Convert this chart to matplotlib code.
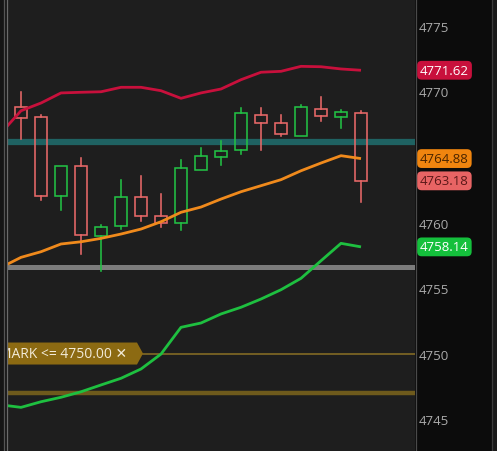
import matplotlib
matplotlib.use("Agg")
import matplotlib.pyplot as plt
from matplotlib.patches import Rectangle, Polygon
from matplotlib.transforms import blended_transform_factory
import numpy as np

plt.rcParams['font.family'] = ['Open Sans', 'DejaVu Sans']

# ---------------- data ----------------
opens  = [4768.79, 4768.03, 4762.05, 4764.29, 4758.95, 4759.71, 4761.92, 4760.47, 4759.96,
          4764.03, 4765.02, 4765.56, 4768.21, 4767.57, 4766.63, 4768.66, 4768.08, 4768.34]
highs  = [4769.94, 4768.21, 4764.29, 4764.92, 4759.81, 4763.24, 4763.57, 4762.18, 4764.77,
          4765.69, 4766.20, 4768.72, 4768.72, 4768.21, 4768.97, 4769.56, 4768.61, 4768.49]
lows   = [4766.37, 4761.74, 4760.95, 4757.60, 4756.30, 4759.50, 4760.14, 4759.63, 4759.45,
          4764.03, 4764.39, 4765.23, 4765.53, 4766.58, 4766.63, 4767.77, 4767.19, 4761.59]
closes = [4767.98, 4762.05, 4764.29, 4759.05, 4759.63, 4761.92, 4760.47, 4759.96, 4764.14,
          4765.05, 4765.43, 4768.34, 4767.60, 4766.76, 4768.79, 4768.15, 4768.41, 4763.18]

# indicator lines (first value belongs to the bar before the visible window)
upper_band = [4766.83, 4768.53, 4769.12, 4769.89, 4769.94, 4769.98, 4770.32, 4770.32, 4770.06,
              4769.48, 4769.89, 4770.19, 4770.90, 4771.47, 4771.54, 4771.92, 4771.89, 4771.72, 4771.62]
middle_avg = [4756.57, 4757.34, 4757.77, 4758.36, 4758.53, 4758.79, 4759.12, 4759.50, 4760.06,
              4760.78, 4761.18, 4761.79, 4762.35, 4762.81, 4763.27, 4763.95, 4764.54, 4765.10, 4764.88]
lower_band = [4746.08, 4745.89, 4746.32, 4746.66, 4747.08, 4747.60, 4748.11, 4748.82, 4749.96,
              4752.00, 4752.33, 4753.02, 4753.53, 4754.16, 4754.87, 4755.74, 4757.08, 4758.41, 4758.14]

level_teal = 4766.15
level_grey = 4756.60
level_mark = 4750.00
level_gold = 4746.97
mark_text = "MARK <= 4750.00 \u2715"

y_ticks = [4745, 4750, 4755, 4760, 4770, 4775]
badges = [(4771.62, "4771.62", "#c8103c", "#ffffff"),
          (4764.88, "4764.88", "#f0850f", "#4a2500"),
          (4763.18, "4763.18", "#e86464", "#5a1818"),
          (4758.14, "4758.14", "#14c03c", "#ffffff")]

# ---------------- figure ----------------
W, H = 497, 452
fig = plt.figure(figsize=(W / 100, H / 100), dpi=100, facecolor="#0c0c0c")

# left strip and separators
fig.add_artist(Rectangle((0, 0), 8 / W, 1, transform=fig.transFigure, color="#151515", zorder=0))
for px, c in [(3.5, "#555555"), (7, "#6a6a6a"), (415.5, "#4a4a4a"), (492, "#3c3c3c")]:
    fig.add_artist(plt.Line2D([px / W, px / W], [0, 1], transform=fig.transFigure,
                              color=c, lw=0.9, zorder=5))
fig.add_artist(Rectangle((492.5 / W, 0), 5 / W, 1, transform=fig.transFigure, color="#1a1a1a", zorder=0))

ax = fig.add_axes([8 / W, 0, 407 / W, 1])
ax.set_facecolor("#1e1e1e")
ax.set_xlim(-0.65, 19.7)
ax.set_ylim(4742.56, 4777.06)
for s in ax.spines.values():
    s.set_visible(False)
ax.set_xticks([])
ax.yaxis.tick_right()
ax.set_yticks(y_ticks)
ax.set_yticklabels([str(t) for t in y_ticks])
ax.tick_params(axis="y", length=0, pad=3, labelsize=9.5, labelcolor="#aaaaaa")

# horizontal levels
ax.axhline(level_teal, color="#1f6262", lw=4.5, zorder=1)
ax.axhline(level_grey, color="#7c7c7c", lw=3.6, zorder=1)
ax.axhline(level_gold, color="#6e5a1c", lw=3.2, zorder=1)
ax.plot([6.1, 19.7], [level_mark, level_mark], color="#7a6424", lw=1.3, zorder=1)

# candles
xs = np.arange(len(opens))
bw = 0.62
for x, o, h, l, c in zip(xs, opens, highs, lows, closes):
    col = "#e86868" if c < o else "#22c044"
    top, bot = max(o, c), min(o, c)
    ax.add_patch(Rectangle((x - bw / 2, bot), bw, top - bot, fill=False,
                           edgecolor=col, lw=1.15, zorder=3))
    if h > top:
        ax.plot([x, x], [top, h], color=col, lw=1.15, zorder=3)
    if l < bot:
        ax.plot([x, x], [l, bot], color=col, lw=1.15, zorder=3)

# indicator lines
lx = np.arange(-1, len(opens))
ax.plot(lx, upper_band, color="#c8103c", lw=2.0, zorder=4, solid_capstyle="butt")
ax.plot(lx, middle_avg, color="#f08a1c", lw=2.0, zorder=4, solid_capstyle="butt")
ax.plot(lx, lower_band, color="#1ec040", lw=2.0, zorder=4, solid_capstyle="butt")

# mark label (pentagon)
half = 0.84
poly = Polygon([(-1.0, level_mark - half), (5.8, level_mark - half), (6.1, level_mark),
                (5.8, level_mark + half), (-1.0, level_mark + half)],
               closed=True, facecolor="#8c6a12", edgecolor="none", zorder=5)
ax.add_patch(poly)
ax.text(-1.12, level_mark - 0.03, mark_text, color="#f2ead8", fontsize=10,
        ha="left", va="center", zorder=6, clip_on=True,
        family=["Open Sans", "DejaVu Sans"])

# price badges on right axis
tr = blended_transform_factory(ax.transAxes, ax.transData)
for val, txt, bg, fg in badges:
    ax.text(1.0 + 5 / 407, val, txt, transform=tr, ha="left", va="center",
            fontsize=9.5, color=fg, clip_on=False, zorder=10,
            bbox=dict(boxstyle="round,pad=0.22,rounding_size=0.35", facecolor=bg,
                      edgecolor="none"))

fig.savefig("out.png", dpi=100, facecolor=fig.get_facecolor())
